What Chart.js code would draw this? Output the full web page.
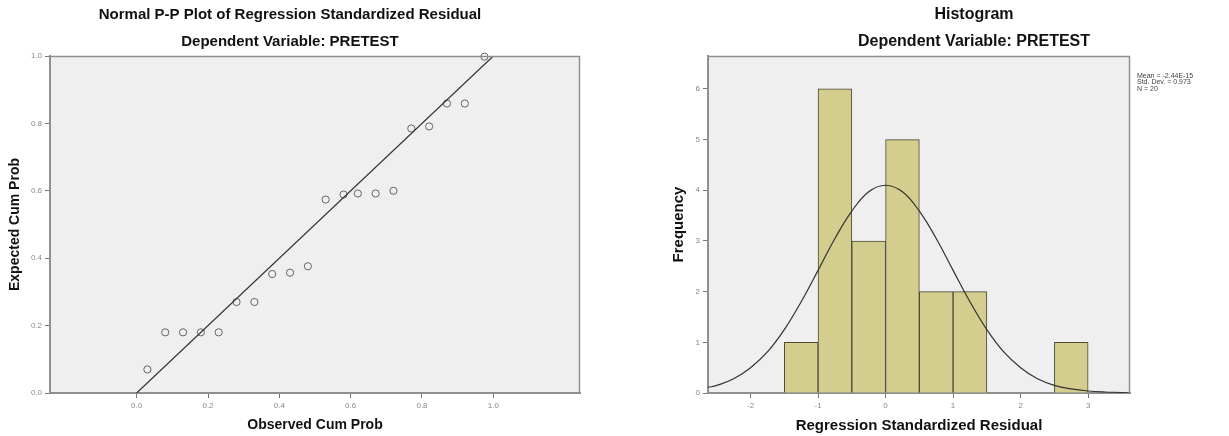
<!DOCTYPE html>
<html>
<head>
<meta charset="utf-8">
<script src="https://cdn.jsdelivr.net/npm/chart.js@4.4.0/dist/chart.umd.min.js"></script>
<style>
  body { margin: 0; background: #fff; width: 1229px; height: 436px; overflow: hidden; position: relative; }
  canvas { position: absolute; top: 0; }
  #pp-chart { left: 0; }
  #hist-chart { left: 620px; }
</style>
</head>
<body>
<canvas id="pp-chart" width="620" height="436"></canvas>
<canvas id="hist-chart" width="609" height="436"></canvas>
<script>
// P-P plot
const ppObserved = [0.03, 0.08, 0.13, 0.18, 0.23, 0.28, 0.33, 0.38, 0.43, 0.48, 0.53, 0.58, 0.62, 0.67, 0.72, 0.77, 0.82, 0.87, 0.92, 0.975];
const ppExpected = [0.07, 0.18, 0.18, 0.18, 0.18, 0.27, 0.27, 0.353, 0.357, 0.376, 0.574, 0.589, 0.592, 0.592, 0.6, 0.785, 0.791, 0.859, 0.859, 0.998];
const ppLineX = [0, 1];
const ppLineY = [0, 1];
const ppTicks = [0, 0.2, 0.4, 0.6, 0.8, 1.0];

// histogram
const binCenters = [-1.25, -0.75, -0.25, 0.25, 0.75, 1.25, 2.75];
const binCounts = [1, 6, 3, 5, 2, 2, 1];
const curveX = [-2.63, -2.5, -2.25, -2, -1.75, -1.5, -1.25, -1, -0.75, -0.5, -0.25, 0, 0.25, 0.5, 0.75, 1, 1.25, 1.5, 1.75, 2, 2.25, 2.5, 2.75, 3, 3.25, 3.5, 3.62];
const curveY = [0.11, 0.15, 0.28, 0.5, 0.81, 1.25, 1.8, 2.42, 3.05, 3.59, 3.97, 4.1, 3.97, 3.59, 3.05, 2.42, 1.8, 1.25, 0.81, 0.5, 0.28, 0.15, 0.08, 0.04, 0.02, 0.01, 0.0];
const histTicksX = [-2, -1, 0, 1, 2, 3];
const histTicksY = [0, 1, 2, 3, 4, 5, 6];
const statsLines = ["Mean = -2.44E-15", "Std. Dev. = 0.973", "N = 20"];

const FONT = "Arial, 'Liberation Sans', sans-serif";

const plotFrame = {
  id: "plotFrame",
  beforeDraw(chart) {
    const { ctx, chartArea: a } = chart;
    ctx.save();
    ctx.fillStyle = "#efefef";
    ctx.fillRect(a.left, a.top, a.right - a.left, a.bottom - a.top);
    ctx.restore();
  },
  afterDraw(chart, args, opts) {
    const { ctx, chartArea: a } = chart;
    ctx.save();
    ctx.strokeStyle = "#8f8f8f";
    ctx.lineWidth = 1.5;
    ctx.beginPath();
    ctx.moveTo(a.left, a.top + 0.5);
    ctx.lineTo(a.right - 0.5, a.top + 0.5);
    ctx.lineTo(a.right - 0.5, a.bottom);
    ctx.stroke();
    ctx.fillStyle = "#111";
    ctx.textAlign = "center";
    ctx.textBaseline = "middle";
    ctx.font = "bold " + opts.titleSize + "px " + FONT;
    ctx.fillText(opts.title, opts.titleX, 15);
    ctx.fillText("Dependent Variable: PRETEST", opts.titleX, 42);
    if (opts.notes) {
      ctx.textAlign = "left";
      ctx.fillStyle = "#444";
      ctx.font = "7px " + FONT;
      opts.notes.forEach((line, i) => ctx.fillText(line, a.right + 7, 76 + i * 6.5));
    }
    ctx.restore();
  },
};

function axis(min, max, ticks, fmt, title, titleSize, extra) {
  return Object.assign({
    type: "linear",
    min: min,
    max: max,
    offset: false,
    afterBuildTicks: (s) => { s.ticks = ticks.map((v) => ({ value: v })); },
    grid: { offset: false, drawOnChartArea: false, drawTicks: true, tickLength: 5, color: "#777", tickWidth: 1 },
    border: { display: true, color: "#8f8f8f", width: 2 },
    ticks: { font: { family: FONT, size: 8 }, color: "#888", padding: 3, callback: fmt },
    title: { display: true, text: title, color: "#111", font: { family: FONT, size: titleSize, weight: "bold" } },
  }, extra);
}

Chart.defaults.animation = false;

const px = axis(-0.243, 1.243, ppTicks, (v) => v.toFixed(1), "Observed Cum Prob", 14, {
  afterFit: (s) => { s.height = 43; },
});
px.title.padding = { top: 0, bottom: 2 };
const py = axis(0, 1.0, ppTicks, (v) => v.toFixed(1), "Expected Cum Prob", 14, {
  afterFit: (s) => { s.width = 50; },
});
py.title.padding = { top: 7, bottom: 0 };

new Chart(document.getElementById("pp-chart"), {
  type: "scatter",
  data: {
    datasets: [
      {
        type: "line",
        data: ppLineX.map((x, i) => ({ x: x, y: ppLineY[i] })),
        borderColor: "#333",
        borderWidth: 1.2,
        pointRadius: 0,
        order: 0,
      },
      {
        data: ppObserved.map((x, i) => ({ x: x, y: ppExpected[i] })),
        pointStyle: "circle",
        pointRadius: 3.6,
        borderColor: "#666",
        borderWidth: 1,
        backgroundColor: "rgba(0,0,0,0)",
        clip: false,
        order: 1,
      },
    ],
  },
  options: {
    responsive: false,
    devicePixelRatio: 1,
    layout: { padding: { left: 0, top: 56, right: 40, bottom: 0 } },
    plugins: {
      legend: { display: false },
      tooltip: { enabled: false },
      plotFrame: { title: "Normal P-P Plot of Regression Standardized Residual", titleX: 290, titleSize: 15 },
    },
    scales: { x: px, y: py },
  },
  plugins: [plotFrame],
});

const hx = axis(-2.63, 3.62, histTicksX, (v) => v, "Regression Standardized Residual", 15, {
  afterFit: (s) => { s.height = 43; },
});
hx.title.padding = { top: 0, bottom: 1 };
const hy = axis(0, 6.65, histTicksY, (v) => v, "Frequency", 15, {
  afterFit: (s) => { s.width = 38; },
});
hy.title.padding = { top: 0, bottom: 0 };

new Chart(document.getElementById("hist-chart"), {
  type: "bar",
  data: {
    datasets: [
      {
        type: "line",
        data: curveX.map((x, i) => ({ x: x, y: curveY[i] })),
        borderColor: "#333",
        borderWidth: 1.2,
        pointRadius: 0,
        tension: 0.4,
        order: 0,
      },
      {
        type: "bar",
        data: binCenters.map((x, i) => ({ x: x, y: binCounts[i] })),
        backgroundColor: "#d3ce8d",
        borderColor: "#4a4a3a",
        borderWidth: 1,
        barPercentage: 1,
        categoryPercentage: 1,
        order: 1,
      },
    ],
  },
  options: {
    responsive: false,
    devicePixelRatio: 1,
    layout: { padding: { left: 50, top: 56, right: 99, bottom: 0 } },
    plugins: {
      legend: { display: false },
      tooltip: { enabled: false },
      plotFrame: { title: "Histogram", titleX: 354, titleSize: 16, notes: statsLines },
    },
    scales: { x: hx, y: hy },
  },
  plugins: [plotFrame],
});
</script>
</body>
</html>
